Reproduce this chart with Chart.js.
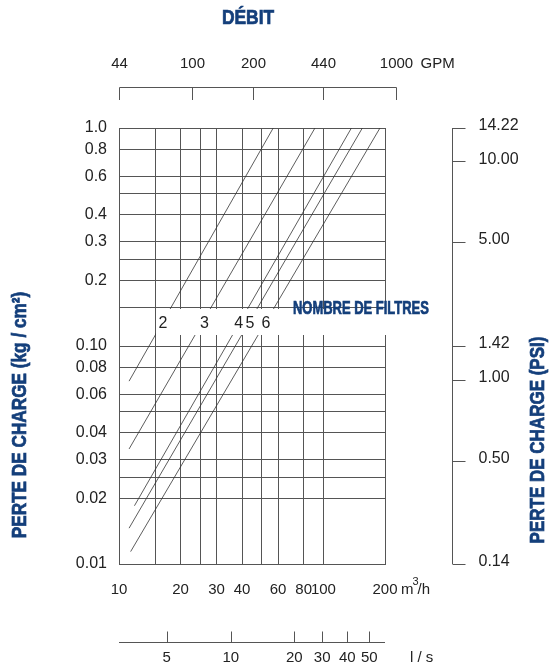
<!DOCTYPE html>
<html>
<head>
<meta charset="utf-8">
<title>Perte de charge</title>
<script src="https://cdn.jsdelivr.net/npm/chart.js@4.4.0/dist/chart.umd.min.js"></script>
<style>
  html, body { margin: 0; padding: 0; background: #fff; }
  canvas { display: block; }
</style>
</head>
<body>
<canvas id="chart" width="551" height="666"></canvas>
<script>
// debit in m3/h (x), perte de charge in kg/cm2 (y), both log
const xGrid = [10, 15, 20, 25, 30, 40, 50, 60, 80, 100, 200];
const xLabels = [10, 20, 30, 40, 60, 80, 100, 200];
const yGrid = [0.01, 0.02, 0.025, 0.03, 0.04, 0.05, 0.06, 0.08, 0.1, 0.15, 0.2, 0.25, 0.3, 0.4, 0.5, 0.6, 0.8, 1];
const yLabels = [0.01, 0.02, 0.03, 0.04, 0.06, 0.08, 0.1, 0.2, 0.3, 0.4, 0.6, 0.8, 1];
const yLabelText = ['0.01', '0.02', '0.03', '0.04', '0.06', '0.08', '0.10', '0.2', '0.3', '0.4', '0.6', '0.8', '1.0'];

// one line per number of filters, [m3/h, kg/cm2] at each end
const filters = ['2', '3', '4', '5', '6'];
const filterStart = [[11.2, 0.069], [11.2, 0.0337], [11.9, 0.0185], [11.2, 0.0146], [11.4, 0.0114]];
const filterEnd = [[56.8, 1], [90.9, 1], [137, 1], [155, 1], [189, 1]];
const filterLabelX = [16.4, 26.2, 38.5, 43.7, 52.3];
const labelBandTop = 0.15;
const labelBandBottom = 0.112;
const labelBandText = 0.127;

// top scale in GPM
const gpmTicks = [44, 100, 200, 440, 1000];
const GPM_PER_M3H = 4.403;

// bottom scale in l/s (placed where the picture has them, in m3/h)
const lsLabels = ['5', '10', '20', '30', '40', '50'];
const lsAt = [17.1, 35.2, 72, 98.6, 130.8, 167.5];

// right scale in PSI (placed where the picture has them, in kg/cm2)
const psiLabels = ['14.22', '10.00', '5.00', '1.42', '1.00', '0.50', '0.14'];
const psiAt = [1, 0.703, 0.3, 0.1, 0.0698, 0.0298, 0.01];

const NAVY = '#143f7b';
const INK = '#222';
const GRID = '#555';
const FONT = '"Liberation Sans", Arial, sans-serif';

function boldText(ctx, text, x, y, size, sx, rot, align) {
    ctx.save();
    ctx.translate(x, y);
    if (rot) ctx.rotate(rot);
    ctx.scale(sx, 1);
    ctx.font = `bold ${size}px ${FONT}`;
    ctx.fillStyle = NAVY;
    ctx.strokeStyle = NAVY;
    ctx.lineWidth = 0.7;
    ctx.textAlign = align || 'center';
    ctx.textBaseline = 'middle';
    ctx.fillText(text, 0, 0);
    ctx.strokeText(text, 0, 0);
    ctx.restore();
}

const extras = {
    id: 'extras',
    afterDatasetsDraw(chart) {
        const ctx = chart.ctx;
        const area = chart.chartArea;
        const xs = chart.scales.x;
        const ys = chart.scales.y;

        // white band where the filter numbers sit
        const bTop = Math.round(ys.getPixelForValue(labelBandTop)) + 1;
        const bBot = Math.round(ys.getPixelForValue(labelBandBottom));
        const bLeft = Math.round(xs.getPixelForValue(15)) + 1;
        ctx.save();
        ctx.fillStyle = '#fff';
        ctx.fillRect(bLeft, bTop, area.right + 2 - bLeft, bBot - bTop);

        ctx.font = `16px ${FONT}`;
        ctx.fillStyle = INK;
        ctx.textAlign = 'center';
        ctx.textBaseline = 'middle';
        filters.forEach((f, i) => {
            ctx.fillText(f, xs.getPixelForValue(filterLabelX[i]), ys.getPixelForValue(labelBandText));
        });
        ctx.restore();
        boldText(ctx, 'NOMBRE DE FILTRES', 293, 309, 18, 0.72, 0, 'left');

        ctx.save();
        ctx.strokeStyle = GRID;
        ctx.lineWidth = 1;
        ctx.font = `15px ${FONT}`;
        ctx.fillStyle = INK;
        ctx.textBaseline = 'middle';

        // GPM axis on top
        const gx = gpmTicks.map(g => Math.round(xs.getPixelForValue(g / GPM_PER_M3H)) + 0.5);
        ctx.beginPath();
        ctx.moveTo(gx[0], 87.5);
        ctx.lineTo(gx[gx.length - 1], 87.5);
        gx.forEach(p => { ctx.moveTo(p, 87.5); ctx.lineTo(p, 100); });
        ctx.stroke();
        ctx.textAlign = 'center';
        gpmTicks.forEach((g, i) => ctx.fillText(String(g), gx[i], 64));
        ctx.textAlign = 'left';
        ctx.fillText('GPM', gx[gx.length - 1] + 24, 64);

        // l/s axis at the bottom
        const ly = 642.5;
        ctx.beginPath();
        ctx.moveTo(area.left, ly);
        ctx.lineTo(area.right, ly);
        lsAt.forEach(v => {
            const p = Math.round(xs.getPixelForValue(v)) + 0.5;
            ctx.moveTo(p, ly);
            ctx.lineTo(p, ly - 11);
        });
        ctx.stroke();
        ctx.textAlign = 'center';
        lsAt.forEach((v, i) => ctx.fillText(lsLabels[i], xs.getPixelForValue(v), 658));
        ctx.textAlign = 'left';
        ctx.fillText('l / s', area.right + 25, 658);

        // m3/h unit after the last tick label
        const ux = area.right + 16;
        ctx.fillText('m', ux, 590);
        const mw = ctx.measureText('m').width;
        ctx.font = `11px ${FONT}`;
        ctx.fillText('3', ux + mw - 1, 582);
        ctx.font = `15px ${FONT}`;
        ctx.fillText('/h', ux + mw + 4, 590);

        // PSI axis on the right
        const px = area.right + 67.5;
        ctx.beginPath();
        ctx.moveTo(px, ys.getPixelForValue(1));
        ctx.lineTo(px, ys.getPixelForValue(0.01));
        psiAt.forEach(v => {
            const p = Math.round(ys.getPixelForValue(v)) + 0.5;
            ctx.moveTo(px, p);
            ctx.lineTo(px + 13, p);
        });
        ctx.stroke();
        ctx.font = `16px ${FONT}`;
        ctx.textAlign = 'left';
        psiAt.forEach((v, i) => ctx.fillText(psiLabels[i], px + 26, ys.getPixelForValue(v) - 2));
        ctx.restore();

        // titles
        boldText(ctx, 'DÉBIT', 248, 18, 20, 0.87);
        boldText(ctx, 'PERTE DE CHARGE (kg / cm²)', 20, 415, 20, 0.86, -Math.PI / 2);
        boldText(ctx, 'PERTE DE CHARGE (PSI)', 538, 440, 20, 0.85, -Math.PI / 2);
    }
};

const datasets = filters.map((f, i) => ({
    label: f,
    data: [
        { x: filterStart[i][0], y: filterStart[i][1] },
        { x: filterEnd[i][0], y: filterEnd[i][1] }
    ],
    showLine: true,
    borderColor: '#333',
    borderWidth: 0.8,
    pointRadius: 0,
    fill: false
}));

new Chart(document.getElementById('chart'), {
    type: 'scatter',
    data: { datasets: datasets },
    options: {
        responsive: false,
        animation: false,
        devicePixelRatio: 1,
        layout: { padding: { top: 128, right: 166, bottom: 0, left: 0 } },
        plugins: { legend: { display: false }, tooltip: { enabled: false } },
        scales: {
            x: {
                type: 'logarithmic',
                min: 10,
                max: 200,
                afterBuildTicks: s => { s.ticks = xGrid.map(v => ({ value: v })); },
                afterFit: s => { s.height = 102; },
                grid: { color: GRID, lineWidth: 1, drawTicks: false },
                border: { color: GRID },
                ticks: {
                    autoSkip: false,
                    maxRotation: 0,
                    padding: 17,
                    color: INK,
                    font: { family: FONT, size: 15 },
                    callback: v => xLabels.includes(v) ? String(v) : ''
                }
            },
            y: {
                type: 'logarithmic',
                min: 0.01,
                max: 1,
                afterBuildTicks: s => { s.ticks = yGrid.map(v => ({ value: v })); },
                afterFit: s => { s.width = 119; },
                grid: { color: GRID, lineWidth: 1, drawTicks: false },
                border: { color: GRID },
                ticks: {
                    autoSkip: false,
                    padding: 12,
                    color: INK,
                    font: { family: FONT, size: 16 },
                    callback: v => {
                        const i = yLabels.indexOf(v);
                        return i >= 0 ? yLabelText[i] : '';
                    }
                }
            }
        }
    },
    plugins: [extras]
});
</script>
</body>
</html>
